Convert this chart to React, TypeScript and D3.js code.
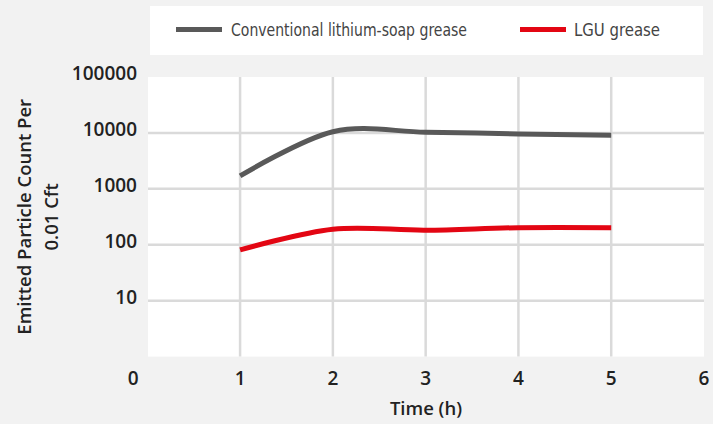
import React from "react";
import * as d3 from "d3";

const times = [1, 2, 3, 4, 5];
const conventional = [1700, 10500, 10300, 9600, 9100];
const lgu = [81, 190, 182, 202, 202];
const xTicks = [0, 1, 2, 3, 4, 5, 6];
const yTicks = [10, 100, 1000, 10000, 100000];
const yGrid = [10, 100, 1000, 10000];
const seriesNames = ["Conventional lithium-soap grease", "LGU grease"];
const seriesColors = ["#595959", "#e30613"];

const W = 713;
const H = 424;
const plot = { left: 148, right: 704, top: 77, bottom: 356.6 };

export default function App() {
  const x = d3.scaleLinear().domain([0, 6]).range([147.3, 704]);
  const y = d3.scaleLog().domain([1, 100000]).range([plot.bottom, plot.top]);
  const line = d3
    .line<number>()
    .x((_, i) => x(times[i]))
    .y((d) => y(d))
    .curve(d3.curveCardinal.tension(0));

  const series = [conventional, lgu];
  const tickFont = "'Open Sans', sans-serif";
  const legendFont = "'DejaVu Sans Condensed', 'DejaVu Sans', sans-serif";

  return (
    <div style={{ position: "absolute", left: 0, top: 0 }}>
      <svg width={W} height={H} style={{ display: "block" }}>
        <rect x={0} y={0} width={W} height={H} fill="#f2f2f2" />
        {/* legend */}
        <rect x={150} y={6} width={553} height={49} fill="#ffffff" />
        <line x1={176} x2={222} y1={29.5} y2={29.5} stroke={seriesColors[0]} strokeWidth={5} />
        <text
          x={231}
          y={36}
          fontFamily={legendFont}
          fontStretch="condensed"
          fontWeight={300}
          fontSize={18}
          fill="#444"
          textLength={236}
          lengthAdjust="spacingAndGlyphs"
        >
          {seriesNames[0]}
        </text>
        <line x1={520} x2={566} y1={29.5} y2={29.5} stroke={seriesColors[1]} strokeWidth={5} />
        <text
          x={574}
          y={36}
          fontFamily={legendFont}
          fontStretch="condensed"
          fontWeight={300}
          fontSize={18}
          fill="#444"
          textLength={86}
          lengthAdjust="spacingAndGlyphs"
        >
          {seriesNames[1]}
        </text>

        {/* plot area */}
        <rect
          x={plot.left}
          y={plot.top}
          width={plot.right - plot.left}
          height={plot.bottom - plot.top}
          fill="#ffffff"
        />
        {yGrid.map((t) => (
          <line
            key={"hy" + t}
            x1={plot.left}
            x2={plot.right}
            y1={y(t)}
            y2={y(t)}
            stroke="#dadada"
            strokeWidth={2.5}
          />
        ))}
        {times.map((t) => (
          <line
            key={"vx" + t}
            x1={x(t)}
            x2={x(t)}
            y1={plot.top}
            y2={plot.bottom}
            stroke="#dadada"
            strokeWidth={2.5}
          />
        ))}

        {series.map((s, i) => (
          <path
            key={"s" + i}
            d={line(s) || ""}
            fill="none"
            stroke={seriesColors[i]}
            strokeWidth={5}
          />
        ))}

        {/* y tick labels */}
        {yTicks.map((t) => (
          <text
            key={"yl" + t}
            x={137}
            y={y(t) + 3}
            textAnchor="end"
            fontFamily={tickFont}
            fontWeight={600}
            fontSize={19}
            fill="#222"
          >
            {t}
          </text>
        ))}
        {/* x tick labels */}
        {xTicks.map((t, i) => (
          <text
            key={"xl" + t}
            x={x(t) + (i === 0 ? -14 : 0)}
            y={385}
            textAnchor="middle"
            fontFamily={tickFont}
            fontWeight={600}
            fontSize={19}
            fill="#222"
          >
            {t}
          </text>
        ))}
        <text
          x={(plot.left + plot.right) / 2}
          y={415}
          textAnchor="middle"
          fontFamily={tickFont}
          fontWeight={600}
          fontSize={18.5}
          fill="#222"
        >
          Time (h)
        </text>
        <g transform={`translate(0, ${(plot.top + plot.bottom) / 2}) rotate(-90)`}>
          <text x={0} y={31} textAnchor="middle" fontFamily={tickFont} fontWeight={600} fontSize={18.5} fill="#222">
            Emitted Particle Count Per
          </text>
          <text x={0} y={58} textAnchor="middle" fontFamily={tickFont} fontWeight={600} fontSize={18.5} fill="#222">
            0.01 Cft
          </text>
        </g>
      </svg>
    </div>
  );
}
